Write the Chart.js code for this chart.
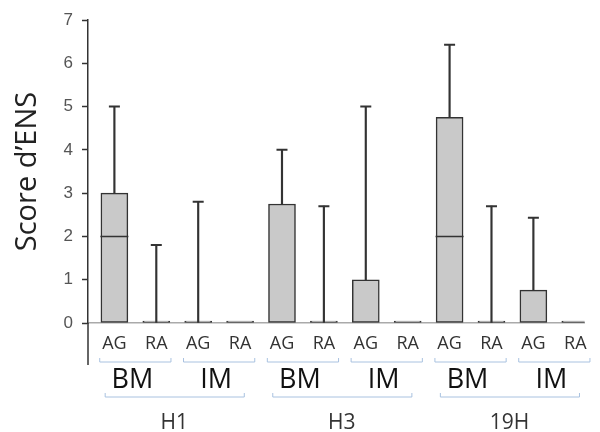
<!DOCTYPE html>
<html>
<head>
<meta charset="utf-8">
<script src="https://cdn.jsdelivr.net/npm/chart.js@4"></script>
<style>
  html, body { margin: 0; padding: 0; background: #fff; }
  #wrap { width: 600px; height: 432px; }
</style>
</head>
<body>
<div id="wrap"><canvas id="ensChart"></canvas></div>
<script>
// one entry per box, left to right: H1 BM AG, H1 BM RA, H1 IM AG, ...
const subLabels = ['AG', 'RA', 'AG', 'RA', 'AG', 'RA', 'AG', 'RA', 'AG', 'RA', 'AG', 'RA'];
const siteLabels = ['BM', 'IM', 'BM', 'IM', 'BM', 'IM'];
const timeLabels = ['H1', 'H3', '19H'];
const boxTop = [3, 0, 0, 0, 2.75, 0, 1, 0, 4.75, 0, 0.76, 0];
const medians = [2, null, null, null, null, null, null, null, 2, null, null, null];
const whiskerMax = [5, 1.8, 2.8, 0, 4, 2.7, 5, 0, 6.43, 2.7, 2.43, 0];
const yTicks = [0, 1, 2, 3, 4, 5, 6, 7];

const dark = '#333333';

const boxData = boxTop.map((v, i) => ({ x: i, y: v }));
const whiskerData = whiskerMax.map((v, i) => ({ x: i, y: v > boxTop[i] ? [boxTop[i], v] : null }));
const capData = whiskerMax.map((v, i) => ({ x: i, y: v > 0 ? v : null }));
const medianData = medians.map((v, i) => ({ x: i, y: v }));

// extra bits under the plot: the axis stub, labels and brackets
const labelsPlugin = {
    id: 'groupLabels',
    afterDraw(chart) {
        const ctx = chart.ctx;
        const x = chart.scales.x;
        const y = chart.scales.y;
        const base = y.getPixelForValue(0);
        const step = x.getPixelForValue(1) - x.getPixelForValue(0);

        ctx.save();
        // y axis runs on below zero
        ctx.strokeStyle = dark;
        ctx.lineWidth = 1.5;
        ctx.beginPath();
        ctx.moveTo(chart.chartArea.left, base);
        ctx.lineTo(chart.chartArea.left, base + 42);
        ctx.stroke();

        ctx.textAlign = 'center';
        ctx.textBaseline = 'middle';

        // AG / RA
        ctx.fillStyle = '#333';
        ctx.font = '18px "Open Sans", sans-serif';
        subLabels.forEach((t, i) => ctx.fillText(t, x.getPixelForValue(i), base + 21));

        // small brackets + BM / IM
        ctx.strokeStyle = '#a9c2e0';
        ctx.lineWidth = 1;
        siteLabels.forEach((t, j) => {
            const l = x.getPixelForValue(j * 2) - step * 0.35;
            const r = x.getPixelForValue(j * 2 + 1) + step * 0.35;
            ctx.beginPath();
            ctx.moveTo(l, base + 35);
            ctx.lineTo(l, base + 39);
            ctx.lineTo(r, base + 39);
            ctx.lineTo(r, base + 35);
            ctx.stroke();
        });
        ctx.fillStyle = '#111';
        ctx.font = '27px "Open Sans", sans-serif';
        siteLabels.forEach((t, j) => {
            const c = (x.getPixelForValue(j * 2) + x.getPixelForValue(j * 2 + 1)) / 2;
            ctx.fillText(t, c - 3, base + 57);
        });

        // big brackets + H1 / H3 / 19H
        timeLabels.forEach((t, k) => {
            const l = x.getPixelForValue(k * 4) - step * 0.22;
            const r = x.getPixelForValue(k * 4 + 3) + step * 0.1;
            ctx.beginPath();
            ctx.moveTo(l, base + 70);
            ctx.lineTo(l, base + 74);
            ctx.lineTo(r, base + 74);
            ctx.lineTo(r, base + 70);
            ctx.stroke();
        });
        ctx.fillStyle = '#333';
        ctx.font = '21px "Open Sans", sans-serif';
        timeLabels.forEach((t, k) => {
            const c = (x.getPixelForValue(k * 4) + x.getPixelForValue(k * 4 + 3)) / 2;
            ctx.fillText(t, c - 3, base + 100);
        });
        ctx.restore();
    }
};

const ctx = document.getElementById('ensChart').getContext('2d');
const ensChart = new Chart(ctx, {
    type: 'bar',
    data: {
        datasets: [
            {
                type: 'line',
                data: medianData,
                showLine: false,
                pointStyle: 'line',
                pointRadius: 14,
                pointBorderWidth: 1.5,
                pointBorderColor: dark,
                order: 0
            },
            {
                type: 'line',
                data: capData,
                showLine: false,
                pointStyle: 'line',
                pointRadius: 5.5,
                pointBorderWidth: 2,
                pointBorderColor: dark,
                order: 1
            },
            {
                data: whiskerData,
                backgroundColor: dark,
                barThickness: 1.5,
                grouped: false,
                order: 2
            },
            {
                data: boxData,
                backgroundColor: '#c9c9c9',
                borderColor: dark,
                borderWidth: 1.5,
                borderSkipped: false,
                barThickness: 27,
                minBarLength: 2,
                grouped: false,
                order: 3
            }
        ]
    },
    options: {
        responsive: true,
        maintainAspectRatio: false,
        animation: false,
        layout: { padding: { top: 20, bottom: 109, left: 0, right: 0 } },
        plugins: {
            legend: { display: false },
            tooltip: { enabled: false }
        },
        scales: {
            x: {
                type: 'linear',
                offset: false,
                min: -0.63,
                max: 11.22,
                grid: { display: false, drawTicks: false, offset: false },
                ticks: { display: false },
                border: { display: true, color: '#aaaaaa', width: 1.5, dash: [2, 2] }
            },
            y: {
                min: 0,
                max: 7,
                afterFit(scale) { scale.width = 88; },
                afterBuildTicks(scale) {
                    const t = [];
                    yTicks.forEach(v => { t.push({ value: v }); if (v < 7) t.push({ value: v + 0.5 }); });
                    scale.ticks = t;
                },
                grid: { drawOnChartArea: false, tickLength: 6, tickColor: dark, tickWidth: 1.5 },
                border: { display: true, color: dark, width: 1.5 },
                ticks: {
                    padding: 9,
                    color: '#555',
                    font: { size: 17, family: '"Liberation Sans", Arial, sans-serif' },
                    callback: v => (Number.isInteger(v) ? v : '')
                },
                title: {
                    display: true,
                    text: 'Score d’ENS',
                    color: '#222',
                    font: { size: 29, family: '"Open Sans", sans-serif' },
                    padding: { top: 10, bottom: 0 }
                }
            }
        }
    },
    plugins: [labelsPlugin]
});
</script>
</body>
</html>
